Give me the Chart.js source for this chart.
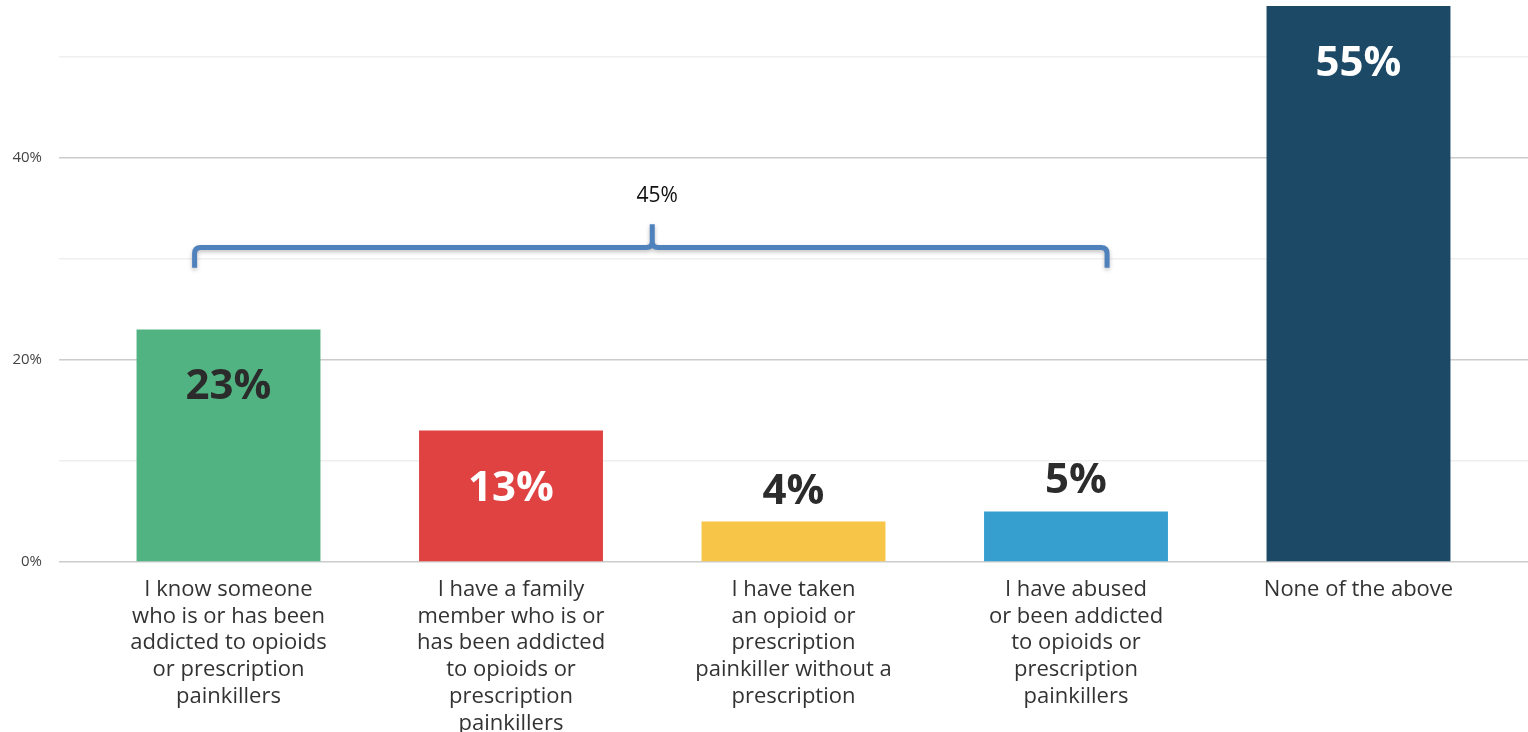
<!DOCTYPE html>
<html>
<head>
<meta charset="utf-8">
<script src="https://cdn.jsdelivr.net/npm/chart.js@4/dist/chart.umd.min.js"></script>
<style>
  html, body { margin:0; padding:0; background:#fff; }
  #wrap { width:1528px; height:732px; position:relative; }
</style>
</head>
<body>
<div id="wrap"><canvas id="chart"></canvas></div>
<script>
const categories = [
  ['I know someone', 'who is or has been', 'addicted to opioids', 'or prescription', 'painkillers'],
  ['I have a family', 'member who is or', 'has been addicted', 'to opioids or', 'prescription', 'painkillers'],
  ['I have taken', 'an opioid or', 'prescription', 'painkiller without a', 'prescription'],
  ['I have abused', 'or been addicted', 'to opioids or', 'prescription', 'painkillers'],
  ['None of the above']
];
const values = [23, 13, 4, 5, 55];
const yTicks = [0, 20, 40];
const bracketLabel = '45%';

const barColors = ['#52b382', '#e04141', '#f7c548', '#369fcf', '#1b4966'];
const valueColors = ['#2b2b2b', '#ffffff', '#2b2b2b', '#2b2b2b', '#ffffff'];
const valueInside = [true, true, false, false, true];

// bracket spans bars 0..3, in data units
const brace = { x0: -0.12, x1: 3.11, xm: 1.5, yBase: 29.1, yLine: 31.1, yPeak: 33.4, yText: 36.2 };

const font = "'Open Sans', sans-serif";

const valueLabels = {
  id: 'valueLabels',
  afterDatasetsDraw(chart) {
    const ctx = chart.ctx;
    const meta = chart.getDatasetMeta(0);
    ctx.save();
    ctx.font = "bold 42px " + font;
    ctx.textAlign = 'center';
    ctx.textBaseline = 'middle';
    meta.data.forEach((bar, i) => {
      ctx.fillStyle = valueColors[i];
      const y = valueInside[i] ? bar.y + 58 : bar.y - 30;
      ctx.fillText(values[i] + '%', bar.x, y);
    });
    ctx.restore();
  }
};

const bracePlugin = {
  id: 'brace',
  afterDatasetsDraw(chart) {
    const ctx = chart.ctx;
    const xs = chart.scales.x, ys = chart.scales.y;
    const x0 = xs.getPixelForValue(brace.x0), x1 = xs.getPixelForValue(brace.x1);
    const xm = xs.getPixelForValue(brace.xm);
    const yb = ys.getPixelForValue(brace.yBase), yl = ys.getPixelForValue(brace.yLine);
    const yp = ys.getPixelForValue(brace.yPeak);
    ctx.save();
    ctx.shadowColor = 'rgba(0,0,0,0.25)';
    ctx.shadowBlur = 4;
    ctx.shadowOffsetY = 2;
    ctx.strokeStyle = '#4f81bd';
    ctx.lineWidth = 5;
    ctx.lineJoin = 'round';
    ctx.beginPath();
    ctx.moveTo(x0, yb);
    ctx.lineTo(x0, yl + 6);
    ctx.quadraticCurveTo(x0, yl, x0 + 6, yl);
    ctx.lineTo(xm - 6, yl);
    ctx.quadraticCurveTo(xm, yl, xm, yl - 6);
    ctx.lineTo(xm, yp);
    ctx.moveTo(xm, yl - 6);
    ctx.quadraticCurveTo(xm, yl, xm + 6, yl);
    ctx.lineTo(x1 - 6, yl);
    ctx.quadraticCurveTo(x1, yl, x1, yl + 6);
    ctx.lineTo(x1, yb);
    ctx.stroke();
    ctx.restore();
    ctx.save();
    ctx.fillStyle = '#111';
    ctx.font = "21px 'Open Sans', sans-serif";
    ctx.textAlign = 'center';
    ctx.textBaseline = 'middle';
    ctx.fillText(bracketLabel, xm + 5, ys.getPixelForValue(brace.yText));
    ctx.restore();
  }
};

new Chart(document.getElementById('chart'), {
  type: 'bar',
  data: {
    datasets: [{
      data: values.map((v, i) => ({ x: i, y: v })),
      backgroundColor: barColors,
      categoryPercentage: 1,
      barPercentage: 0.651
    }]
  },
  options: {
    responsive: true,
    maintainAspectRatio: false,
    animation: false,
    layout: { padding: { top: 6, right: 0, left: 0, bottom: 0 } },
    plugins: { legend: { display: false }, tooltip: { enabled: false } },
    scales: {
      x: {
        type: 'linear',
        min: -0.6, max: 4.6,
        offset: false,
        grid: { display: false, offset: false },
        border: { display: false },
        afterBuildTicks(scale) { scale.ticks = categories.map((c, i) => ({ value: i })); },
        afterFit(scale) {
          scale.height = 170;
          scale.paddingLeft = 0; scale.paddingRight = 0;
        },
        ticks: {
          autoSkip: false,
          maxRotation: 0,
          padding: 6,
          color: '#333',
          font: { family: font, size: 22, lineHeight: 1.22 },
          callback: (v) => categories[v]
        }
      },
      y: {
        min: 0, max: 55,
        border: { display: false },
        afterFit(scale) {
          scale.width = 59;
          scale.paddingTop = 0; scale.paddingBottom = 0;
        },
        afterBuildTicks(scale) { scale.ticks = [0, 10, 20, 30, 40, 50].map(v => ({ value: v })); },
        grid: {
          drawTicks: false,
          lineWidth: 1.5,
          color: (c) => yTicks.includes(c.tick.value) ? '#cccccc' : '#efefef'
        },
        ticks: {
          padding: 17,
          color: '#444',
          font: { family: font, size: 15 },
          callback: (v) => yTicks.includes(v) ? v + '%' : ''
        }
      }
    }
  },
  plugins: [valueLabels, bracePlugin]
});
</script>
</body>
</html>
